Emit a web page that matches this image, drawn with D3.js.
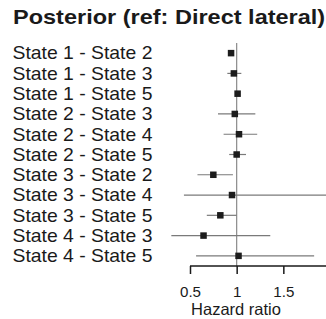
<!DOCTYPE html>
<html>
<head>
<meta charset="utf-8">
<script src="https://cdn.jsdelivr.net/npm/d3@7"></script>
<style>
  body { margin: 0; background: #fff; }
  svg { display: block; overflow: hidden; }
  text { font-family: "Liberation Sans", Arial, sans-serif; fill: #1a1a1a; }
</style>
</head>
<body>
<svg id="chart" width="326" height="319"></svg>
<script>
// comparisons (rows, top to bottom)
var labels = ["State 1 - State 2", "State 1 - State 3", "State 1 - State 5",
              "State 2 - State 3", "State 2 - State 4", "State 2 - State 5",
              "State 3 - State 2", "State 3 - State 4", "State 3 - State 5",
              "State 4 - State 3", "State 4 - State 5"];
// hazard ratio estimates and interval bounds
var estimate = [0.94, 0.97, 1.01, 0.98, 1.025, 1.00, 0.75, 0.95, 0.825, 0.645, 1.02];
var lower    = [0.92, 0.90, 0.99, 0.80, 0.86, 0.92, 0.58, 0.435, 0.68, 0.30, 0.565];
var upper    = [0.96, 1.05, 1.03, 1.20, 1.22, 1.10, 0.96, 2.10, 1.00, 1.36, 1.83];
var ticks = [0.5, 1, 1.5, 2];

var svg = d3.select("#chart");

var x = d3.scaleLinear().domain([0.5, 2]).range([190, 330]);
var y = d3.scaleBand().domain(labels).range([43, 266]);

// title
svg.append("text")
    .attr("transform", "translate(13,24) scale(1.12,1)")
    .style("font-size", "21px")
    .style("font-weight", "bold")
    .text("Posterior (ref: Direct lateral)");

// row labels
svg.selectAll("text.lab")
    .data(labels)
    .enter().append("text")
    .attr("class", "lab")
    .attr("transform", function(d) {
        return "translate(12.5," + (y(d) + y.bandwidth() / 2 + 6.3) + ") scale(1.076,1)";
    })
    .style("font-size", "18px")
    .text(function(d) { return d; });

// reference line at 1
svg.append("line")
    .attr("x1", x(1)).attr("x2", x(1))
    .attr("y1", 43).attr("y2", 266)
    .attr("stroke", "#8a8a8a")
    .attr("stroke-width", 1.2);

// intervals
svg.selectAll("line.ci")
    .data(labels)
    .enter().append("line")
    .attr("class", "ci")
    .attr("x1", function(d, i) { return x(lower[i]); })
    .attr("x2", function(d, i) { return x(upper[i]); })
    .attr("y1", function(d) { return y(d) + y.bandwidth() / 2; })
    .attr("y2", function(d) { return y(d) + y.bandwidth() / 2; })
    .attr("stroke", "#7a7a7a")
    .attr("stroke-width", 1.2);

// point estimates
var size = 6.5;
svg.selectAll("rect.pt")
    .data(labels)
    .enter().append("rect")
    .attr("class", "pt")
    .attr("x", function(d, i) { return x(estimate[i]) - size / 2; })
    .attr("y", function(d) { return y(d) + y.bandwidth() / 2 - size / 2; })
    .attr("width", size)
    .attr("height", size)
    .attr("fill", "#1c1c1c");

// x axis
var axis = svg.append("g")
    .attr("transform", "translate(0,266)")
    .call(d3.axisBottom(x).tickValues(ticks).tickSize(8).tickSizeOuter(0)
        .tickFormat(function(d) { return String(d); }));
axis.select(".domain").attr("stroke", "#1a1a1a").attr("stroke-width", 1.5)
    .attr("d", "M" + x(0.5) + ",0H" + x(2));
axis.selectAll(".tick line").attr("stroke", "#1a1a1a").attr("stroke-width", 1.5);
axis.selectAll(".tick text")
    .attr("y", null).attr("dy", null)
    .attr("transform", "translate(0,30.5) scale(1.08,1)")
    .style("font-size", "14px")
    .attr("fill", "#1a1a1a")
    .attr("font-family", null);

// axis title
svg.append("text")
    .attr("x", 236).attr("y", 315)
    .attr("text-anchor", "middle")
    .style("font-size", "16.5px")
    .text("Hazard ratio");
</script>
</body>
</html>
